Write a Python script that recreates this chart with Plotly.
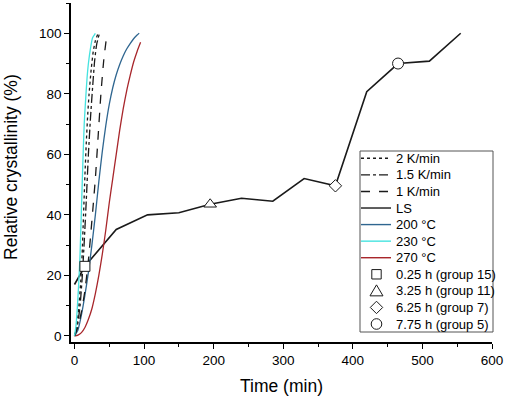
import plotly.graph_objects as go

# ---- data ----
rate2_x = [0, 3, 6, 9, 11, 13, 15, 17, 19, 21, 24, 27, 30, 34]
rate2_y = [0, 3, 9, 18, 27, 40, 53, 64, 73, 80, 88, 94, 97.5, 100]

rate15_x = [0, 4, 8, 11, 14, 17, 20, 23, 26, 29, 32, 36]
rate15_y = [0, 3, 10, 19, 31, 45, 60, 72, 82, 91, 96.5, 100]

rate1_x = [0, 5, 10, 15, 20, 25, 30, 34, 38, 42, 46.5]
rate1_y = [0, 3, 8, 15, 25, 38, 52, 66, 80, 91, 99.5]

ls_x = [0, 15, 60, 105, 150, 195, 240, 285, 330, 375, 420, 465, 510, 555]
ls_y = [17, 23, 35.2, 40, 40.7, 43.5, 45.5, 44.5, 52, 49.6, 80.7, 90, 90.8, 100]

t200_x = [0, 5, 10, 15, 20, 25, 30, 35, 40, 45, 50, 55, 60, 65, 70, 75, 80, 85, 90, 93]
t200_y = [0, 2, 7, 13.5, 21, 30, 40, 51, 61, 69.5, 76.5, 82, 86.3, 89.7, 92.5, 94.8, 96.6, 98.2, 99.4, 100]

t230_x = [0, 2, 4, 6, 8, 10, 12, 14, 16, 18, 20, 23, 26, 30]
t230_y = [0, 3, 9, 17, 27, 42, 57, 70, 78, 85, 90, 95, 98.5, 100]

t270_x = [0, 5, 10, 15, 20, 25, 30, 35, 40, 45, 50, 55, 60, 65, 70, 75, 80, 85, 90, 95]
t270_y = [0, 0.3, 1.1, 2.8, 5.5, 9, 14, 20, 27, 35, 44, 52, 60, 68, 75, 81, 86, 90.5, 94, 97]

line_labels = ["2 K/min", "1.5 K/min", "1 K/min", "LS", "200 °C", "230 °C", "270 °C"]
mark_labels = ["0.25 h (group 15)", "3.25 h (group 11)", "6.25 h (group 7)", "7.75 h (group 5)"]
mark_x = [15, 195, 375, 465]
mark_y = [23, 43.5, 49.6, 90]

x_ticks = [0, 100, 200, 300, 400, 500, 600]
y_ticks = [0, 20, 40, 60, 80, 100]

FONT = "Arial, Liberation Sans, sans-serif"
BLACK = "#1a1a1a"
C200, C230, C270 = "#2F6690", "#45E3E0", "#A8262B"

# ---- layout geometry (pixels) ----
W, H = 505, 398
ML, MR, MT, MB = 71, 13, 3, 56
PW, PH = W - ML - MR, H - MT - MB


def px(xp):
    return (xp - ML) / PW


def py(yp):
    return (H - MB - yp) / PH


fig = go.Figure()


def curve(x, y, name, color, dash="solid", width=1.3):
    fig.add_trace(go.Scatter(x=x, y=y, mode="lines", name=name, showlegend=False,
                             line=dict(color=color, dash=dash, width=width,
                                       shape="spline", smoothing=0.6)))


fig.add_trace(go.Scatter(x=ls_x, y=ls_y, mode="lines", name="LS", showlegend=False,
                         line=dict(color=BLACK, width=1.6)))
curve(t270_x, t270_y, "270 °C", C270)
curve(t200_x, t200_y, "200 °C", C200)
curve(rate1_x, rate1_y, "1 K/min", BLACK, "dash")
curve(rate15_x, rate15_y, "1.5 K/min", BLACK, "dashdot")
curve(rate2_x, rate2_y, "2 K/min", BLACK, "dot")
curve(t230_x, t230_y, "230 °C", C230)

mark_symbols = ["square", "triangle-up", "diamond", "circle"]
mark_sizes = [10, 11, 9.5, 11]
for lab, mx, my, sym, sz in zip(mark_labels, mark_x, mark_y, mark_symbols, mark_sizes):
    fig.add_trace(go.Scatter(x=[mx], y=[my], mode="markers", name=lab, showlegend=False,
                             marker=dict(symbol=sym, size=sz, color="white",
                                         line=dict(color=BLACK, width=1))))

# ---- hand-built legend box ----
shapes = []
annotations = []
LX0, LX1, LY0, LY1 = 360, 493, 151, 332
shapes.append(dict(type="rect", xref="paper", yref="paper",
                   x0=px(LX0), x1=px(LX1), y0=py(LY1), y1=py(LY0),
                   line=dict(color="#555555", width=1), fillcolor="white", layer="above"))
row0, dy = 158.3, 16.57
line_styles = [(BLACK, "dot"), (BLACK, "dashdot"), (BLACK, "dash"), (BLACK, "solid"),
               (C200, "solid"), (C230, "solid"), (C270, "solid")]
all_labels = line_labels + mark_labels
for i, lab in enumerate(all_labels):
    yc = row0 + dy * i
    annotations.append(dict(xref="paper", yref="paper", x=px(394), y=py(yc),
                            xanchor="left", yanchor="middle", showarrow=False, text=lab,
                            font=dict(family=FONT, size=13, color="black")))
    if i < len(line_labels):
        col, dsh = line_styles[i]
        shapes.append(dict(type="line", xref="paper", yref="paper",
                           x0=px(361), x1=px(391), y0=py(yc), y1=py(yc),
                           line=dict(color=col, dash=dsh, width=1.4), layer="above"))
    else:
        k = i - len(line_labels)
        cx = 376.5
        st = dict(xref="paper", yref="paper", line=dict(color=BLACK, width=1),
                  fillcolor="white", layer="above")
        if k == 0:
            h = 4.7
            shapes.append(dict(type="rect", x0=px(cx - h), x1=px(cx + h),
                               y0=py(yc + h), y1=py(yc - h), **st))
        elif k == 1:
            pts = [(cx, yc - 6), (cx + 6.5, yc + 5), (cx - 6.5, yc + 5)]
            path = "M " + " L ".join(f"{px(a):.5f},{py(b):.5f}" for a, b in pts) + " Z"
            shapes.append(dict(type="path", path=path, **st))
        elif k == 2:
            pts = [(cx, yc - 6.2), (cx + 6.2, yc), (cx, yc + 6.2), (cx - 6.2, yc)]
            path = "M " + " L ".join(f"{px(a):.5f},{py(b):.5f}" for a, b in pts) + " Z"
            shapes.append(dict(type="path", path=path, **st))
        else:
            r = 5.3
            shapes.append(dict(type="circle", x0=px(cx - r), x1=px(cx + r),
                               y0=py(yc + r), y1=py(yc - r), **st))

# axis titles
annotations.append(dict(xref="paper", yref="paper", x=px(281.5), y=py(386),
                        xanchor="center", yanchor="middle", showarrow=False, text="Time (min)",
                        font=dict(family=FONT, size=17.5, color="black")))
annotations.append(dict(xref="paper", yref="paper", x=px(11), y=py(167),
                        xanchor="center", yanchor="middle", showarrow=False, textangle=-90,
                        text="Relative crystallinity (%)",
                        font=dict(family=FONT, size=17.5, color="black")))

fig.update_layout(
    width=W, height=H,
    margin=dict(l=ML, r=MR, t=MT, b=MB, autoexpand=False),
    paper_bgcolor="white", plot_bgcolor="white",
    font=dict(family=FONT, color="black", size=13.5),
    showlegend=False,
    shapes=shapes, annotations=annotations,
)
fig.update_xaxes(range=[-5, 600], tickvals=x_ticks, ticks="outside", ticklen=5, tickwidth=1.3,
                 tickcolor="black", automargin=False,
                 showline=True, linecolor="black", linewidth=1.5, showgrid=False, zeroline=False,
                 minor=dict(dtick=50, tick0=0, ticks="outside", ticklen=3, tickwidth=1.2, tickcolor="black"),
                 tickfont=dict(size=13.5))
fig.update_yaxes(range=[-2, 110], tickvals=y_ticks, ticks="outside", ticklen=5, tickwidth=1.3,
                 tickcolor="black", automargin=False,
                 showline=True, linecolor="black", linewidth=1.5, showgrid=False, zeroline=False,
                 minor=dict(dtick=10, tick0=0, ticks="outside", ticklen=3, tickwidth=1.2, tickcolor="black"),
                 tickfont=dict(size=13.5))

fig.write_html("out.html", config={"displayModeBar": False},
               post_script="document.body.style.margin='0';document.body.style.overflow='hidden';")
